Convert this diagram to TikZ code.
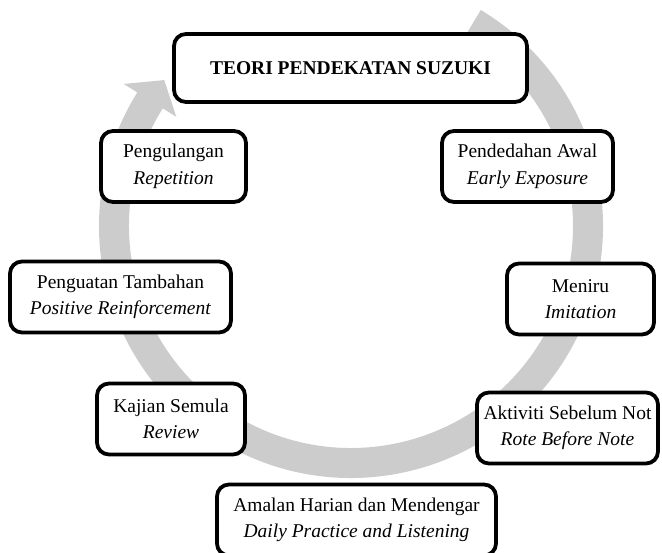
\documentclass[tikz,border=0pt]{standalone}
\usepackage{fontspec}
\setmainfont{Liberation Serif}
\definecolor{ringgray}{RGB}{204,204,204}

\begin{document}
\begin{tikzpicture}[x=1pt,y=1pt,
        stage/.style={draw, line width=3.8pt, rounded corners=12pt, fill=white,
            align=center, minimum height=71pt, inner sep=2pt,
            font=\fontsize{19.5}{26.5}\selectfont}]
        \useasboundingbox (0,0) rectangle (662,553);

        % ring with arrow head
        \fill[ringgray, shift={(351,327)}] (59:252) arc[start angle=59, end angle=-212, radius=252]
            -- (-212:268) -- (-218:237) -- (-212:206) -- (-212:222)
            arc[start angle=-212, end angle=59, radius=222] -- cycle;

        \node[stage, minimum width=353pt, minimum height=68pt] (title) at (350.5,485) {\textbf{TEORI PENDEKATAN SUZUKI}};
        \node[stage, minimum width=145pt] (rep) at (173.5,386.5) {Pengulangan\\\textit{Repetition}};
        \node[stage, minimum width=171pt] (exp) at (527.5,386.5) {Pendedahan Awal\\\textit{Early Exposure}};
        \node[stage, minimum width=221pt] (pos) at (120.5,256) {Penguatan Tambahan\\\textit{Positive Reinforcement}};
        \node[stage, minimum width=147pt] (imi) at (580.5,254) {Meniru\\\textit{Imitation}};
        \node[stage, minimum width=148pt] (rev) at (171,134) {Kajian Semula\\\textit{Review}};
        \node[stage, minimum width=181pt] (rote) at (567.5,125) {Aktiviti Sebelum Not\\\textit{Rote Before Note}};
        \node[stage, minimum width=279pt] (daily) at (356.5,33) {Amalan Harian dan Mendengar\\\textit{Daily Practice and Listening}};
    \end{tikzpicture}
\end{document}
